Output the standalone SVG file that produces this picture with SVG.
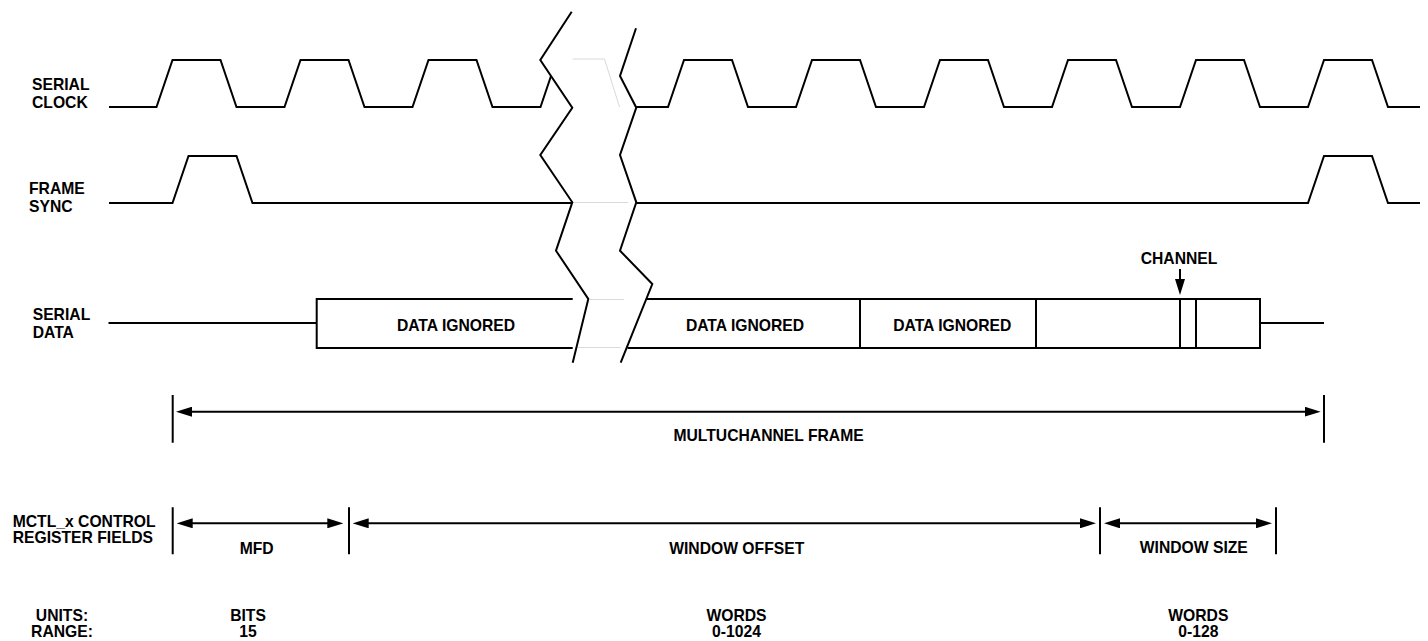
<svg xmlns="http://www.w3.org/2000/svg" width="1428" height="641" viewBox="0 0 1428 641">
<style>
  .t{font-family:"Liberation Sans",Arial,Helvetica,sans-serif;font-weight:bold;font-size:15.7px;fill:#000}
  .m{text-anchor:middle}
  .w{fill:none;stroke:#000;stroke-width:2;stroke-linejoin:miter}
  .g{fill:none;stroke:#d9d9d9;stroke-width:1}
  .a{fill:none;stroke:#000;stroke-width:2}
</style>
<defs>
  <marker id="ah" markerUnits="userSpaceOnUse" markerWidth="16" markerHeight="10" refX="8" refY="5" orient="auto-start-reverse">
    <path d="M0,0 L16,5 L0,10 Z" fill="#000"/>
  </marker>
</defs>
<rect width="1428" height="641" fill="#fff"/>

<g id="labels-left">
  <text class="t" x="32" y="90">SERIAL</text>
  <text class="t" x="32" y="108">CLOCK</text>
  <text class="t" x="29" y="193.5">FRAME</text>
  <text class="t" x="29" y="211.5">SYNC</text>
  <text class="t" x="32.7" y="320">SERIAL</text>
  <text class="t" x="32.7" y="338">DATA</text>
</g>

<g id="serial-clock">
  <path class="w" d="M109,107 L156.5,107 L172.5,60 L220.5,60 L236.5,107 L284.5,107 L300.5,60 L348.5,60 L364.5,107 L412.5,107 L428.5,60 L476.5,60 L492.5,107 L540.5,107 L551,76"/>
  <path class="g" d="M572.7,59 L604.5,59 L619.5,107"/>
  <path class="w" d="M636.3,107 L668,107 L684,60 L732,60 L748,107 L796,107 L812,60 L860,60 L876,107 L924,107 L940,60 L988,60 L1004,107 L1052,107 L1068,60 L1116,60 L1132,107 L1180,107 L1196,60 L1244,60 L1260,107 L1308,107 L1324,60 L1372,60 L1388,107 L1420,107"/>
</g>

<g id="frame-sync">
  <path class="w" d="M109,203 L172.5,203 L188.5,156 L236.5,156 L252.5,203 L572.3,203"/>
  <path class="g" d="M572.7,202.5 L628,202.5"/>
  <path class="w" d="M636.3,203 L1308,203 L1324,156 L1372,156 L1388,203 L1420,203"/>
</g>

<g id="serial-data">
  <path class="w" d="M108.5,323 L316.7,323"/>
  <path class="w" d="M572.7,299 L316.7,299 L316.7,348 L572.7,348"/>
  <path class="g" d="M590,299.5 L624,299.5 M578,347.5 L620.7,347.5"/>
  <path class="w" d="M646.5,299 L1260,299 L1260,348 L627.5,348"/>
  <path class="w" d="M860,299 L860,348 M1036,299 L1036,348 M1180,299 L1180,348 M1196,299 L1196,348"/>
  <path class="w" d="M1260,323 L1324,323"/>
  <text class="t m" x="456" y="330.7">DATA IGNORED</text>
  <text class="t m" x="745" y="330.7">DATA IGNORED</text>
  <text class="t m" x="952.3" y="330.7">DATA IGNORED</text>
</g>

<g id="break">
  <path class="w" d="M571.7,11.7 L540.3,60 L572.3,107.7 L540.3,155 L572.3,202.3 L556,250.7 L588.3,299 L572.7,362.7"/>
  <path class="w" d="M636,28.3 L620,76 L636.3,107.7 L620,155 L636.3,202.3 L620,250.7 L652.3,284 L620.7,362.7"/>
</g>

<g id="channel">
  <text class="t m" x="1179" y="264">CHANNEL</text>
</g>

<g id="multichannel-frame">
  <path class="a" d="M172.7,395 L172.7,442.7 M1324,395 L1324,442.7"/>
  <text class="t m" x="768.6" y="440.7">MULTUCHANNEL FRAME</text>
</g>

<g id="register-fields">
  <text class="t" x="12.7" y="526.7">MCTL_x CONTROL</text>
  <text class="t" x="12.7" y="543.3">REGISTER FIELDS</text>
  <path class="a" d="M172.7,507.3 L172.7,554.3 M349,507.3 L349,554.3 M1100,507.3 L1100,554.3 M1276,507.3 L1276,554.3"/>
  <text class="t m" x="256.7" y="554">MFD</text>
  <text class="t m" x="736.7" y="553.5">WINDOW OFFSET</text>
  <text class="t m" x="1193.8" y="553">WINDOW SIZE</text>
</g>

<g id="units-range">
  <text class="t m" x="62" y="621">UNITS:</text>
  <text class="t m" x="62" y="637">RANGE:</text>
  <text class="t m" x="248" y="621">BITS</text>
  <text class="t m" x="248" y="637">15</text>
  <text class="t m" x="736.5" y="621">WORDS</text>
  <text class="t m" x="736.5" y="637">0-1024</text>
  <text class="t m" x="1198.3" y="621">WORDS</text>
  <text class="t m" x="1198.3" y="637">0-128</text>
</g>

<g id="connectors">
  <line class="a" x1="1180" y1="269" x2="1180" y2="287" marker-end="url(#ah)"/>
  <line class="a" x1="184" y1="411.7" x2="1312.7" y2="411.7" marker-start="url(#ah)" marker-end="url(#ah)"/>
  <line class="a" x1="184.7" y1="523.3" x2="335.3" y2="523.3" marker-start="url(#ah)" marker-end="url(#ah)"/>
  <line class="a" x1="360.7" y1="523.3" x2="1088" y2="523.3" marker-start="url(#ah)" marker-end="url(#ah)"/>
  <line class="a" x1="1112" y1="523.3" x2="1264" y2="523.3" marker-start="url(#ah)" marker-end="url(#ah)"/>
</g>
</svg>
